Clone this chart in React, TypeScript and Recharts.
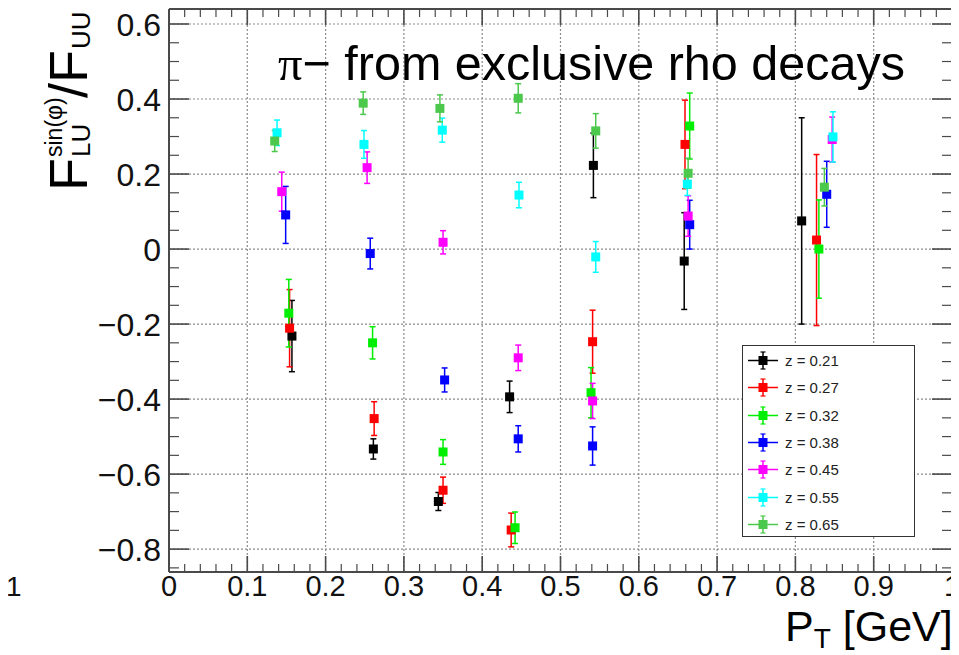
import React from 'react';
import { ScatterChart, Scatter, XAxis, YAxis, CartesianGrid, ErrorBar } from 'recharts';

const FONT = '"Liberation Sans", Arial, Helvetica, sans-serif';
const FRAME = '#4a4a4a';

// ---- data ----
const Z_LABELS = ['z = 0.21', 'z = 0.27', 'z = 0.32', 'z = 0.38', 'z = 0.45', 'z = 0.55', 'z = 0.65'];
const Z_COLORS = ['#000000', '#ff0000', '#00ee00', '#0000ff', '#ff00ff', '#00ffff', '#4cc84c'];

const PT_Z021 = [0.157, 0.261, 0.344, 0.435, 0.542, 0.658, 0.808];
const VAL_Z021 = [-0.232, -0.533, -0.673, -0.394, 0.223, -0.032, 0.075];
const ERR_Z021 = [0.095, 0.027, 0.024, 0.042, 0.086, 0.129, 0.275];

const PT_Z027 = [0.154, 0.262, 0.35, 0.437, 0.541, 0.659, 0.827];
const VAL_Z027 = [-0.211, -0.452, -0.643, -0.749, -0.247, 0.279, 0.024];
const ERR_Z027 = [0.103, 0.045, 0.035, 0.045, 0.084, 0.118, 0.228];

const PT_Z032 = [0.153, 0.26, 0.35, 0.442, 0.539, 0.665, 0.83];
const VAL_Z032 = [-0.171, -0.25, -0.541, -0.743, -0.383, 0.328, 0.0];
const ERR_Z032 = [0.09, 0.043, 0.033, 0.042, 0.067, 0.088, 0.131];

const PT_Z038 = [0.149, 0.257, 0.352, 0.446, 0.541, 0.665, 0.84];
const VAL_Z038 = [0.091, -0.012, -0.349, -0.506, -0.525, 0.065, 0.146];
const ERR_Z038 = [0.076, 0.041, 0.032, 0.035, 0.051, 0.065, 0.088];

const PT_Z045 = [0.144, 0.253, 0.35, 0.446, 0.541, 0.663, 0.847];
const VAL_Z045 = [0.153, 0.217, 0.018, -0.29, -0.405, 0.088, 0.292];
const ERR_Z045 = [0.052, 0.042, 0.031, 0.034, 0.047, 0.054, 0.06];

const PT_Z055 = [0.138, 0.249, 0.349, 0.447, 0.545, 0.662, 0.848];
const VAL_Z055 = [0.31, 0.279, 0.317, 0.144, -0.021, 0.173, 0.299];
const ERR_Z055 = [0.034, 0.037, 0.032, 0.034, 0.041, 0.03, 0.067];

const PT_Z065 = [0.135, 0.248, 0.346, 0.446, 0.545, 0.663, 0.837];
const VAL_Z065 = [0.288, 0.389, 0.375, 0.402, 0.315, 0.202, 0.165];
const ERR_Z065 = [0.028, 0.03, 0.036, 0.039, 0.046, 0.04, 0.05];

const X_TICKS = [0, 0.1, 0.2, 0.3, 0.4, 0.5, 0.6, 0.7, 0.8, 0.9, 1];
const X_TICK_LABELS = ['0', '0.1', '0.2', '0.3', '0.4', '0.5', '0.6', '0.7', '0.8', '0.9', '1'];
const Y_TICKS = [-0.8, -0.6, -0.4, -0.2, 0, 0.2, 0.4, 0.6];
const Y_TICK_LABELS = ['\u22120.8', '\u22120.6', '\u22120.4', '\u22120.2', '0', '0.2', '0.4', '0.6'];

const X_DOMAIN = [0, 1];
const Y_DOMAIN = [-0.861, 0.64];

// minor tick positions (decoration only)
const X_MINOR: number[] = [];
for (let i = 1; i < 50; i++) if (i % 5 !== 0) X_MINOR.push(+(i * 0.02).toFixed(2));
const Y_MINOR: number[] = [];
for (let i = -17; i <= 12; i++) if (i % 4 !== 0) Y_MINOR.push(+(i * 0.05).toFixed(2));

const PTS = [PT_Z021, PT_Z027, PT_Z032, PT_Z038, PT_Z045, PT_Z055, PT_Z065];
const VALS = [VAL_Z021, VAL_Z027, VAL_Z032, VAL_Z038, VAL_Z045, VAL_Z055, VAL_Z065];
const ERRS = [ERR_Z021, ERR_Z027, ERR_Z032, ERR_Z038, ERR_Z045, ERR_Z055, ERR_Z065];

const SERIES = Z_LABELS.map((label, s) => ({
  label,
  color: Z_COLORS[s],
  data: PTS[s].map((x, i) => ({ x, y: VALS[s][i], e: ERRS[s][i] })),
}));

const lbl = (arr: number[], labels: string[], v: number) => {
  const i = arr.findIndex((t) => Math.abs(t - v) < 1e-6);
  return i >= 0 ? labels[i] : '';
};

// ---- ticks ----
const XMajorTick = (p: any) => (
  <g>
    <line x1={p.x} x2={p.x} y1={p.y} y2={p.y - 16} stroke={FRAME} strokeWidth={1.6} />
    <text x={p.x} y={p.y + 24} textAnchor="middle" fontSize={29} fontFamily={FONT} fill="#111">
      {lbl(X_TICKS, X_TICK_LABELS, p.payload.value)}
    </text>
  </g>
);
const XMinorTick = (p: any) => (
  <line x1={p.x} x2={p.x} y1={p.y - 1} y2={p.y - 9} stroke={FRAME} strokeWidth={1.2} />
);
const XTopTick = (p: any) => {
  const major = X_TICKS.some((t) => Math.abs(t - p.payload.value) < 1e-6);
  return <line x1={p.x} x2={p.x} y1={p.y} y2={p.y + (major ? 16 : 8)} stroke={FRAME} strokeWidth={major ? 1.6 : 1.2} />;
};
const YMajorTick = (p: any) => (
  <g>
    <line x1={p.x} x2={p.x + 20} y1={p.y} y2={p.y} stroke={FRAME} strokeWidth={1.6} />
    <text x={p.x - 8} y={p.y + 11.5} textAnchor="end" fontSize={32} fontFamily={FONT} fill="#111">
      {lbl(Y_TICKS, Y_TICK_LABELS, p.payload.value)}
    </text>
  </g>
);
const YMinorTick = (p: any) => (
  <line x1={p.x + 1} x2={p.x + 11} y1={p.y} y2={p.y} stroke={FRAME} strokeWidth={1.2} />
);
const YRightTick = (p: any) => {
  const major = Y_TICKS.some((t) => Math.abs(t - p.payload.value) < 1e-6);
  return <line x1={p.x} x2={p.x - (major ? 20 : 10)} y1={p.y} y2={p.y} stroke={FRAME} strokeWidth={major ? 1.6 : 1.2} />;
};

const Square = (color: string) => (p: any) => (
  <rect x={p.cx - 4.5} y={p.cy - 4.5} width={9} height={9} fill={color} />
);

const axisLine = { stroke: FRAME, strokeWidth: 2 };

export default function App() {
  return (
    <div style={{ position: 'relative', width: 959, height: 655, margin: '-8px 0 0 -8px', background: '#fff', fontFamily: FONT }}>
      <ScatterChart width={959} height={655} margin={{ top: 8, right: 6, bottom: 81, left: 167 }}>
        <CartesianGrid stroke="#8c8c8c" strokeDasharray="2 2" strokeWidth={1.2} />
        <XAxis type="number" dataKey="x" domain={X_DOMAIN} ticks={X_TICKS} allowDataOverflow interval={0}
          height={1} tickSize={0} tickMargin={0} axisLine={axisLine} tickLine={false} tick={<XMajorTick />} />
        <XAxis xAxisId="xminor" type="number" dataKey="x" domain={X_DOMAIN} ticks={X_MINOR} allowDataOverflow interval={0}
          height={1} tickSize={0} tickMargin={0} axisLine={false} tickLine={false} tick={<XMinorTick />} />
        <XAxis xAxisId="xtop" orientation="top" type="number" dataKey="x" domain={X_DOMAIN} ticks={[...X_TICKS, ...X_MINOR]} allowDataOverflow interval={0}
          height={1} tickSize={0} tickMargin={0} axisLine={axisLine} tickLine={false} tick={<XTopTick />} />
        <YAxis type="number" dataKey="y" domain={Y_DOMAIN} ticks={Y_TICKS} allowDataOverflow interval={0}
          width={1} tickSize={0} tickMargin={0} axisLine={axisLine} tickLine={false} tick={<YMajorTick />} />
        <YAxis yAxisId="yminor" type="number" dataKey="y" domain={Y_DOMAIN} ticks={Y_MINOR} allowDataOverflow interval={0}
          width={1} tickSize={0} tickMargin={0} axisLine={false} tickLine={false} tick={<YMinorTick />} />
        <YAxis yAxisId="yright" orientation="right" type="number" dataKey="y" domain={Y_DOMAIN} ticks={[...Y_TICKS, ...Y_MINOR]} allowDataOverflow interval={0}
          width={1} tickSize={0} tickMargin={0} axisLine={axisLine} tickLine={false} tick={<YRightTick />} />
        {SERIES.map((s) => (
          <Scatter key={s.label} name={s.label} data={s.data} fill={s.color} shape={Square(s.color)} isAnimationActive={false}>
            <ErrorBar dataKey="e" direction="y" width={3} stroke={s.color} strokeWidth={1.5} isAnimationActive={false} />
          </Scatter>
        ))}
      </ScatterChart>

      {/* text overlay */}
      <svg width={959} height={655} style={{ position: 'absolute', left: 0, top: 0, pointerEvents: 'none' }}>
        <text x={278} y={80} fontSize={48.5} fontFamily={FONT} fill="#000">
          <tspan fontFamily='"Liberation Serif", "DejaVu Serif", serif'>π</tspan>
          <tspan>{'\u2212 from exclusive rho decays'}</tspan>
        </text>
        <text x={785} y={641} fontSize={43} fontFamily={FONT} fill="#000">
          P<tspan fontSize={28} dy={7}>T</tspan><tspan dy={-7}> [GeV]</tspan>
        </text>
        <g transform="translate(87,191) rotate(-90)" fontFamily={FONT} fill="#000">
          <text x={0} y={0} fontSize={54}>F</text>
          <text x={34} y={3} fontSize={26}>LU</text>
          <text x={34} y={-25} fontSize={23}>sin(φ)</text>
          <text x={93} y={0} fontSize={54}>/F</text>
          <text x={142} y={3} fontSize={26}>UU</text>
        </g>
        <text x={6} y={596} fontSize={28} fontFamily={FONT} fill="#111">1</text>
      </svg>
      <div style={{ position: 'absolute', left: 3, top: 0, width: 0, height: 574, borderLeft: '2px solid #888' }} />

      {/* legend */}
      <div style={{ position: 'absolute', left: 742, top: 345, width: 173, height: 192, border: '1.5px solid #333', boxSizing: 'border-box', background: '#fff' }}>
        {SERIES.map((s, i) => (
          <div key={s.label} style={{ position: 'absolute', left: 0, top: 1 + i * 27.3, height: 27, display: 'flex', alignItems: 'center' }}>
            <svg width={40} height={27} style={{ display: 'block' }}>
              <line x1={5} x2={35} y1={13.5} y2={13.5} stroke={s.color} strokeWidth={1.5} />
              <line x1={20} x2={20} y1={5} y2={22} stroke={s.color} strokeWidth={1.5} />
              <line x1={17.5} x2={22.5} y1={5} y2={5} stroke={s.color} strokeWidth={1.2} />
              <line x1={17.5} x2={22.5} y1={22} y2={22} stroke={s.color} strokeWidth={1.2} />
              <rect x={15.5} y={9} width={9} height={9} fill={s.color} />
            </svg>
            <span style={{ marginLeft: 2, fontSize: 15, color: '#222', fontFamily: FONT }}>{s.label}</span>
          </div>
        ))}
      </div>
    </div>
  );
}
